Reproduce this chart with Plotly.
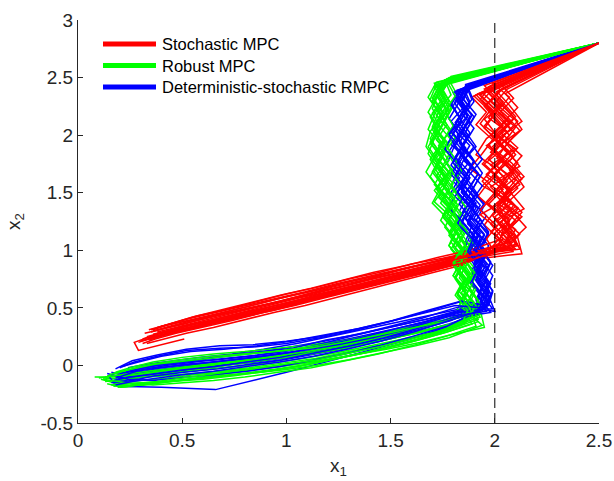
import plotly.graph_objects as go

# ---------------- data ----------------
series_names = ["Stochastic MPC", "Robust MPC", "Deterministic-stochastic RMPC"]
series_colors = ["#ff0000", "#00ff00", "#0000ff"]

x_tick_vals = [0, 0.5, 1, 1.5, 2, 2.5]
x_tick_text = ["0", "0.5", "1", "1.5", "2", "2.5"]
y_tick_vals = [-0.5, 0, 0.5, 1, 1.5, 2, 2.5, 3]
y_tick_text = ["-0.5", "0", "0.5", "1", "1.5", "2", "2.5", "3"]

constraint_x1 = 2.0

# Stochastic MPC trajectories
stoch_x = [
    [2.5, 1.95, 2.02, 1.97, 2.06, 1.99, 2.04, 1.96, 2.08, 2.01, 2.05, 1.98, 2.07, 1.86, 1.70, 1.55, 1.40, 1.24, 1.09, 0.94, 0.79, 0.64, 0.51, 0.40, 0.34],
    [2.5, 1.92, 1.99, 2.08, 2.01, 2.10, 1.98, 2.05, 2.00, 2.11, 2.03, 2.09, 2.12, 1.90, 1.74, 1.58, 1.43, 1.27, 1.12, 0.97, 0.82, 0.68, 0.55, 0.43, 0.36],
    [2.5, 1.98, 1.93, 2.00, 1.95, 2.03, 2.09, 2.02, 1.94, 2.06, 1.99, 2.04, 2.02, 1.83, 1.67, 1.51, 1.36, 1.21, 1.05, 0.90, 0.75, 0.61, 0.48, 0.37, 0.30],
    [2.5, 2.01, 2.07, 2.13, 2.05, 2.00, 2.08, 2.14, 2.06, 2.01, 2.10, 2.04, 2.09, 1.88, 1.72, 1.57, 1.41, 1.26, 1.10, 0.95, 0.81, 0.66, 0.53, 0.41, 0.33],
    [2.5, 1.89, 1.96, 1.91, 1.99, 1.94, 1.88, 1.97, 1.92, 2.00, 1.95, 2.02, 1.97, 1.80, 1.64, 1.49, 1.33, 1.18, 1.03, 0.87, 0.72, 0.58, 0.46, 0.36, 0.29],
    [2.5, 2.04, 1.98, 2.06, 2.12, 2.03, 1.97, 2.05, 2.11, 2.04, 2.13, 2.06, 2.10, 1.87, 1.71, 1.54, 1.38, 1.23, 1.07, 0.92, 0.77, 0.63, 0.50, 0.39, 0.31],
    [2.5, 1.96, 2.03, 1.95, 2.01, 2.09, 2.02, 1.96, 2.04, 1.97, 2.07, 2.00, 2.05, 1.84, 1.68, 1.52, 1.37, 1.21, 1.06, 0.91, 0.76, 0.62, 0.49, 0.38, 0.27, 0.29, 0.51],
    [2.5, 1.93, 2.00, 2.07, 1.99, 2.06, 2.12, 2.01, 2.08, 2.14, 2.02, 2.11, 2.13, 1.89, 1.73, 1.56, 1.42, 1.25, 1.11, 0.96, 0.80, 0.67, 0.54, 0.42, 0.35],
    [2.5, 2.00, 1.94, 2.02, 2.08, 1.96, 2.03, 2.09, 1.98, 2.05, 1.93, 2.01, 2.08, 1.85, 1.69, 1.53, 1.39, 1.22, 1.08, 0.93, 0.78, 0.63, 0.51, 0.40, 0.32],
    [2.5, 1.97, 2.05, 2.11, 2.04, 1.98, 2.07, 2.13, 2.05, 2.10, 2.01, 2.07, 2.03, 1.82, 1.66, 1.50, 1.35, 1.19, 1.04, 0.89, 0.74, 0.60, 0.47, 0.37, 0.31],
    [2.5, 1.90, 1.97, 2.04, 1.96, 1.91, 2.00, 2.06, 1.99, 1.93, 2.01, 1.96, 2.00, 1.86, 1.71, 1.55, 1.40, 1.24, 1.09, 0.94, 0.79, 0.65, 0.52, 0.41, 0.34],
    [2.5, 2.03, 2.09, 2.02, 2.10, 2.05, 2.13, 2.07, 2.12, 2.03, 2.09, 2.15, 2.08, 1.91, 1.75, 1.59, 1.44, 1.28, 1.13, 0.98, 0.83, 0.69, 0.56, 0.45, 0.38],
    [2.5, 2.06, 2.00, 2.09, 2.03, 2.11, 2.05, 1.99, 2.08, 2.02, 2.12, 2.05, 2.11, 1.90, 1.75, 1.60, 1.45, 1.30, 1.15, 1.00, 0.85, 0.70, 0.57, 0.46, 0.38],
    [2.5, 1.99, 2.07, 2.01, 1.95, 2.04, 2.10, 2.03, 1.97, 2.06, 2.13, 2.07, 2.02, 1.88, 1.73, 1.58, 1.42, 1.27, 1.12, 0.97, 0.82, 0.68, 0.55, 0.44, 0.35],
    [2.5, 1.94, 2.01, 2.06, 1.98, 2.04, 1.95, 2.02, 2.07, 1.99, 2.05, 2.10, 2.01, 1.84, 1.69, 1.54, 1.39, 1.24, 1.09, 0.94, 0.79, 0.65, 0.52, 0.41, 0.33],
    [2.5, 2.02, 1.96, 2.03, 2.10, 2.04, 2.11, 2.06, 2.00, 2.09, 2.04, 2.12, 2.06, 1.87, 1.72, 1.56, 1.41, 1.26, 1.11, 0.96, 0.81, 0.67, 0.54, 0.43, 0.36],
    [2.5, 1.97, 2.04, 1.98, 2.05, 1.97, 2.03, 2.09, 2.02, 1.96, 2.03, 2.08, 2.04, 1.85, 1.70, 1.55, 1.39, 1.24, 1.09, 0.93, 0.78, 0.64, 0.52, 0.42, 0.34],
    [2.5, 2.05, 2.11, 2.04, 1.99, 2.07, 2.01, 2.10, 2.04, 2.11, 2.06, 2.00, 2.09, 1.89, 1.74, 1.59, 1.44, 1.29, 1.14, 0.99, 0.84, 0.70, 0.57, 0.46, 0.37],
    [2.5, 1.98, 2.04, 2.10, 2.02, 1.97, 2.05, 2.12, 2.03, 2.08, 2.00, 2.06, 2.11, 1.88, 1.73, 1.57, 1.42, 1.27, 1.12, 0.97, 0.82, 0.68, 0.55, 0.44, 0.36],
    [2.5, 2.02, 1.95, 2.01, 2.07, 2.00, 1.94, 2.02, 2.08, 2.01, 2.07, 2.03, 2.10, 1.91, 1.76, 1.61, 1.46, 1.31, 1.16, 1.01, 0.86, 0.72, 0.59, 0.48, 0.40],
    [2.5, 1.95, 2.02, 2.08, 2.13, 2.06, 2.01, 2.09, 2.14, 2.07, 2.02, 2.10, 2.05, 1.86, 1.71, 1.56, 1.41, 1.26, 1.11, 0.96, 0.81, 0.67, 0.54, 0.43, 0.35],
    [2.5, 1.91, 1.98, 1.93, 2.00, 2.06, 1.99, 1.94, 2.01, 2.07, 1.98, 2.04, 1.99, 1.83, 1.68, 1.53, 1.38, 1.23, 1.08, 0.93, 0.78, 0.64, 0.51, 0.40, 0.32],
]
stoch_y = [
    [2.8, 2.40, 2.27, 2.15, 2.03, 1.90, 1.78, 1.66, 1.52, 1.41, 1.28, 1.16, 1.04, 0.93, 0.85, 0.78, 0.71, 0.64, 0.57, 0.50, 0.44, 0.38, 0.32, 0.27, 0.24],
    [2.8, 2.36, 2.24, 2.11, 1.99, 1.88, 1.74, 1.63, 1.50, 1.37, 1.25, 1.12, 1.01, 0.96, 0.88, 0.81, 0.74, 0.67, 0.60, 0.53, 0.47, 0.41, 0.35, 0.30, 0.27],
    [2.8, 2.43, 2.31, 2.18, 2.06, 1.93, 1.81, 1.69, 1.56, 1.44, 1.30, 1.18, 1.06, 0.90, 0.82, 0.74, 0.68, 0.61, 0.54, 0.47, 0.41, 0.35, 0.30, 0.25, 0.21],
    [2.8, 2.38, 2.26, 2.12, 2.01, 1.87, 1.76, 1.64, 1.51, 1.39, 1.26, 1.14, 1.02, 0.95, 0.86, 0.80, 0.72, 0.66, 0.58, 0.52, 0.45, 0.39, 0.33, 0.29, 0.25],
    [2.8, 2.33, 2.20, 2.09, 1.96, 1.84, 1.71, 1.59, 1.47, 1.34, 1.22, 1.10, 0.99, 0.89, 0.81, 0.75, 0.67, 0.61, 0.53, 0.47, 0.40, 0.34, 0.29, 0.24, 0.20],
    [2.8, 2.41, 2.29, 2.16, 2.04, 1.92, 1.79, 1.67, 1.54, 1.42, 1.29, 1.17, 1.05, 0.94, 0.87, 0.79, 0.72, 0.65, 0.59, 0.52, 0.45, 0.39, 0.34, 0.28, 0.23],
    [2.8, 2.39, 2.25, 2.14, 2.00, 1.89, 1.77, 1.64, 1.53, 1.40, 1.27, 1.15, 1.03, 0.92, 0.84, 0.77, 0.70, 0.63, 0.56, 0.49, 0.43, 0.37, 0.31, 0.27, 0.20, 0.13, 0.23],
    [2.8, 2.35, 2.23, 2.10, 1.98, 1.86, 1.73, 1.61, 1.49, 1.36, 1.24, 1.11, 0.97, 0.92, 0.85, 0.77, 0.71, 0.63, 0.57, 0.50, 0.43, 0.38, 0.32, 0.27, 0.24],
    [2.8, 2.42, 2.30, 2.17, 2.05, 1.91, 1.80, 1.68, 1.55, 1.43, 1.31, 1.19, 1.07, 0.97, 0.89, 0.82, 0.75, 0.68, 0.61, 0.54, 0.48, 0.42, 0.36, 0.31, 0.28],
    [2.8, 2.37, 2.23, 2.12, 1.99, 1.85, 1.74, 1.62, 1.48, 1.38, 1.25, 1.13, 1.00, 0.88, 0.80, 0.73, 0.66, 0.59, 0.52, 0.46, 0.39, 0.33, 0.28, 0.23, 0.19],
    [2.8, 2.34, 2.22, 2.08, 1.97, 1.83, 1.72, 1.60, 1.46, 1.35, 1.21, 1.10, 0.98, 0.90, 0.83, 0.76, 0.69, 0.62, 0.55, 0.48, 0.42, 0.36, 0.31, 0.26, 0.22],
    [2.8, 2.44, 2.32, 2.19, 2.07, 1.95, 1.82, 1.70, 1.57, 1.45, 1.32, 1.20, 1.08, 0.99, 0.90, 0.83, 0.76, 0.69, 0.62, 0.56, 0.49, 0.43, 0.37, 0.32, 0.29],
    [2.8, 2.40, 2.28, 2.14, 2.02, 1.89, 1.77, 1.65, 1.53, 1.40, 1.28, 1.15, 1.05, 0.99, 0.93, 0.88, 0.81, 0.75, 0.68, 0.62, 0.55, 0.48, 0.43, 0.37, 0.33],
    [2.8, 2.45, 2.33, 2.20, 2.08, 1.96, 1.83, 1.71, 1.58, 1.46, 1.33, 1.21, 1.09, 1.00, 0.94, 0.87, 0.81, 0.74, 0.67, 0.61, 0.54, 0.48, 0.42, 0.36, 0.31],
    [2.8, 2.37, 2.25, 2.13, 2.00, 1.88, 1.75, 1.63, 1.50, 1.38, 1.26, 1.13, 1.01, 0.87, 0.80, 0.73, 0.66, 0.59, 0.52, 0.46, 0.39, 0.33, 0.28, 0.23, 0.19],
    [2.8, 2.39, 2.26, 2.13, 2.01, 1.88, 1.76, 1.64, 1.51, 1.39, 1.27, 1.14, 1.02, 0.96, 0.90, 0.84, 0.77, 0.71, 0.64, 0.58, 0.51, 0.45, 0.40, 0.35, 0.31],
    [2.8, 2.42, 2.29, 2.17, 2.04, 1.92, 1.79, 1.67, 1.54, 1.42, 1.30, 1.17, 1.05, 0.96, 0.90, 0.84, 0.77, 0.71, 0.64, 0.57, 0.51, 0.45, 0.40, 0.35, 0.31],
    [2.8, 2.36, 2.24, 2.11, 1.98, 1.86, 1.73, 1.61, 1.48, 1.36, 1.23, 1.11, 0.99, 0.93, 0.87, 0.80, 0.73, 0.67, 0.60, 0.54, 0.47, 0.41, 0.36, 0.31, 0.27],
    [2.8, 2.41, 2.28, 2.16, 2.03, 1.91, 1.78, 1.66, 1.53, 1.41, 1.29, 1.16, 1.04, 0.95, 0.89, 0.82, 0.76, 0.69, 0.63, 0.56, 0.50, 0.44, 0.39, 0.34, 0.30],
    [2.8, 2.38, 2.25, 2.12, 2.00, 1.87, 1.75, 1.62, 1.50, 1.37, 1.25, 1.12, 1.01, 0.97, 0.92, 0.86, 0.79, 0.73, 0.66, 0.60, 0.53, 0.47, 0.41, 0.37, 0.34],
    [2.8, 2.43, 2.30, 2.18, 2.05, 1.93, 1.80, 1.68, 1.55, 1.43, 1.31, 1.18, 1.06, 0.94, 0.88, 0.81, 0.75, 0.68, 0.62, 0.55, 0.49, 0.43, 0.38, 0.33, 0.29],
    [2.8, 2.35, 2.22, 2.10, 1.97, 1.85, 1.72, 1.60, 1.47, 1.35, 1.23, 1.10, 0.98, 0.88, 0.82, 0.75, 0.69, 0.62, 0.56, 0.49, 0.43, 0.37, 0.31, 0.26, 0.22],
]

# Robust MPC trajectories
robust_x = [
    [2.5, 1.75, 1.72, 1.77, 1.71, 1.76, 1.70, 1.75, 1.71, 1.78, 1.83, 1.80, 1.86, 1.82, 1.88, 1.85, 1.90, 1.87, 1.73, 1.57, 1.41, 1.25, 1.09, 0.93, 0.77, 0.62, 0.47, 0.33, 0.21, 0.12],
    [2.5, 1.72, 1.76, 1.71, 1.68, 1.74, 1.69, 1.73, 1.78, 1.74, 1.81, 1.85, 1.81, 1.87, 1.83, 1.89, 1.86, 1.92, 1.77, 1.61, 1.45, 1.29, 1.13, 0.97, 0.81, 0.65, 0.50, 0.36, 0.22, 0.08],
    [2.5, 1.78, 1.74, 1.79, 1.75, 1.81, 1.76, 1.72, 1.78, 1.83, 1.79, 1.85, 1.89, 1.84, 1.90, 1.86, 1.92, 1.95, 1.80, 1.64, 1.48, 1.32, 1.16, 1.00, 0.84, 0.68, 0.53, 0.39, 0.28, 0.19],
    [2.5, 1.73, 1.70, 1.74, 1.69, 1.67, 1.72, 1.76, 1.71, 1.77, 1.82, 1.78, 1.84, 1.80, 1.86, 1.82, 1.88, 1.84, 1.70, 1.54, 1.38, 1.22, 1.06, 0.90, 0.74, 0.59, 0.45, 0.32, 0.22],
    [2.5, 1.76, 1.79, 1.73, 1.77, 1.72, 1.78, 1.74, 1.80, 1.76, 1.81, 1.87, 1.83, 1.88, 1.84, 1.90, 1.87, 1.93, 1.78, 1.62, 1.46, 1.30, 1.14, 0.98, 0.82, 0.67, 0.52, 0.38, 0.25, 0.15],
    [2.5, 1.71, 1.75, 1.70, 1.74, 1.69, 1.75, 1.80, 1.76, 1.71, 1.79, 1.84, 1.80, 1.85, 1.81, 1.87, 1.84, 1.89, 1.75, 1.59, 1.43, 1.27, 1.11, 0.95, 0.79, 0.64, 0.49, 0.34, 0.20],
    [2.5, 1.77, 1.73, 1.70, 1.75, 1.71, 1.68, 1.73, 1.77, 1.73, 1.80, 1.76, 1.82, 1.86, 1.82, 1.88, 1.85, 1.91, 1.79, 1.63, 1.47, 1.31, 1.15, 0.99, 0.83, 0.67, 0.51, 0.37, 0.24, 0.14],
    [2.5, 1.74, 1.78, 1.74, 1.79, 1.73, 1.78, 1.72, 1.77, 1.82, 1.78, 1.83, 1.79, 1.85, 1.81, 1.86, 1.82, 1.88, 1.74, 1.58, 1.42, 1.26, 1.10, 0.94, 0.78, 0.63, 0.48, 0.34, 0.23, 0.16],
    [2.5, 1.79, 1.75, 1.80, 1.76, 1.72, 1.77, 1.81, 1.76, 1.82, 1.87, 1.83, 1.89, 1.85, 1.91, 1.87, 1.92, 1.89, 1.75, 1.60, 1.44, 1.28, 1.12, 0.96, 0.80, 0.65, 0.50, 0.36, 0.25, 0.18],
    [2.5, 1.72, 1.68, 1.73, 1.70, 1.76, 1.71, 1.67, 1.72, 1.79, 1.75, 1.81, 1.78, 1.84, 1.80, 1.86, 1.83, 1.94, 1.78, 1.62, 1.46, 1.30, 1.14, 0.98, 0.82, 0.66, 0.51, 0.37, 0.25, 0.17],
    [2.5, 1.75, 1.71, 1.76, 1.72, 1.78, 1.73, 1.79, 1.74, 1.70, 1.77, 1.82, 1.87, 1.83, 1.88, 1.84, 1.90, 1.86, 1.72, 1.56, 1.40, 1.24, 1.08, 0.92, 0.76, 0.60, 0.45, 0.31, 0.18, 0.10],
    [2.5, 1.78, 1.82, 1.77, 1.73, 1.79, 1.74, 1.79, 1.83, 1.78, 1.84, 1.80, 1.86, 1.82, 1.87, 1.91, 1.88, 1.93, 1.81, 1.65, 1.49, 1.33, 1.17, 1.01, 0.85, 0.69, 0.54, 0.40, 0.27, 0.20],
    [2.5, 1.76, 1.72, 1.68, 1.73, 1.69, 1.74, 1.70, 1.75, 1.80, 1.76, 1.82, 1.78, 1.84, 1.80, 1.86, 1.83, 1.90, 1.76, 1.60, 1.44, 1.28, 1.12, 0.96, 0.80, 0.64, 0.49, 0.35, 0.23, 0.13],
    [2.5, 1.73, 1.77, 1.72, 1.78, 1.74, 1.70, 1.76, 1.72, 1.77, 1.83, 1.79, 1.85, 1.81, 1.86, 1.82, 1.88, 1.85, 1.71, 1.55, 1.39, 1.23, 1.07, 0.91, 0.75, 0.60, 0.45, 0.31, 0.19, 0.11],
    [2.5, 1.77, 1.81, 1.76, 1.80, 1.75, 1.80, 1.84, 1.79, 1.84, 1.80, 1.86, 1.90, 1.85, 1.91, 1.88, 1.93, 1.90, 1.77, 1.61, 1.46, 1.30, 1.14, 0.98, 0.82, 0.66, 0.51, 0.37, 0.26, 0.17],
    [2.5, 1.74, 1.70, 1.75, 1.71, 1.77, 1.72, 1.78, 1.73, 1.79, 1.75, 1.81, 1.86, 1.82, 1.87, 1.83, 1.89, 1.92, 1.78, 1.62, 1.47, 1.31, 1.15, 0.99, 0.83, 0.68, 0.52, 0.38, 0.26, 0.16],
    [2.5, 1.79, 1.74, 1.78, 1.73, 1.69, 1.74, 1.79, 1.74, 1.81, 1.77, 1.83, 1.79, 1.85, 1.89, 1.84, 1.90, 1.87, 1.74, 1.58, 1.42, 1.26, 1.10, 0.94, 0.78, 0.62, 0.47, 0.33, 0.21, 0.13],
    [2.5, 1.71, 1.75, 1.69, 1.73, 1.68, 1.73, 1.69, 1.74, 1.78, 1.74, 1.80, 1.84, 1.80, 1.85, 1.81, 1.87, 1.84, 1.70, 1.54, 1.38, 1.22, 1.06, 0.90, 0.75, 0.60, 0.45, 0.32, 0.21, 0.14],
    [2.5, 1.77, 1.73, 1.78, 1.74, 1.70, 1.75, 1.71, 1.76, 1.81, 1.77, 1.83, 1.88, 1.84, 1.89, 1.85, 1.91, 1.88, 1.75, 1.59, 1.43, 1.27, 1.11, 0.95, 0.79, 0.64, 0.49, 0.35, 0.24, 0.15],
    [2.5, 1.72, 1.69, 1.74, 1.70, 1.75, 1.71, 1.77, 1.72, 1.78, 1.82, 1.78, 1.84, 1.80, 1.86, 1.82, 1.88, 1.91, 1.76, 1.60, 1.44, 1.28, 1.12, 0.96, 0.80, 0.65, 0.50, 0.36, 0.23, 0.12],
]
robust_y = [
    [2.8, 2.47, 2.34, 2.21, 2.08, 1.95, 1.82, 1.69, 1.57, 1.44, 1.31, 1.18, 1.05, 0.92, 0.79, 0.66, 0.53, 0.40, 0.30, 0.22, 0.15, 0.09, 0.03, -0.01, -0.04, -0.06, -0.08, -0.10, -0.12, -0.11],
    [2.8, 2.44, 2.31, 2.18, 2.05, 1.92, 1.79, 1.66, 1.54, 1.41, 1.28, 1.15, 1.02, 0.89, 0.76, 0.63, 0.50, 0.38, 0.29, 0.21, 0.14, 0.08, 0.03, -0.01, -0.04, -0.07, -0.08, -0.09, -0.10, -0.10],
    [2.8, 2.50, 2.37, 2.24, 2.11, 1.98, 1.85, 1.72, 1.59, 1.47, 1.34, 1.21, 1.08, 0.95, 0.82, 0.69, 0.56, 0.33, 0.27, 0.20, 0.14, 0.09, 0.04, 0.00, -0.04, -0.08, -0.12, -0.15, -0.18, -0.19],
    [2.8, 2.42, 2.29, 2.16, 2.03, 1.90, 1.77, 1.64, 1.52, 1.39, 1.26, 1.13, 1.00, 0.87, 0.74, 0.61, 0.48, 0.38, 0.32, 0.26, 0.20, 0.14, 0.09, 0.05, 0.02, -0.01, -0.03, -0.05, -0.07],
    [2.8, 2.48, 2.35, 2.22, 2.09, 1.96, 1.83, 1.70, 1.58, 1.45, 1.32, 1.19, 1.06, 0.93, 0.80, 0.67, 0.54, 0.42, 0.33, 0.25, 0.18, 0.12, 0.06, 0.02, -0.02, -0.05, -0.09, -0.12, -0.14, -0.13],
    [2.8, 2.45, 2.32, 2.19, 2.06, 1.93, 1.80, 1.67, 1.55, 1.42, 1.29, 1.16, 1.03, 0.90, 0.77, 0.64, 0.51, 0.36, 0.28, 0.20, 0.13, 0.07, 0.01, -0.03, -0.07, -0.10, -0.13, -0.16, -0.19],
    [2.8, 2.49, 2.36, 2.23, 2.10, 1.97, 1.84, 1.71, 1.59, 1.46, 1.33, 1.20, 1.07, 0.94, 0.81, 0.68, 0.55, 0.43, 0.36, 0.29, 0.22, 0.16, 0.11, 0.07, 0.03, 0.00, -0.03, -0.06, -0.08, -0.09],
    [2.8, 2.43, 2.30, 2.17, 2.04, 1.91, 1.78, 1.65, 1.53, 1.40, 1.27, 1.14, 1.01, 0.88, 0.75, 0.62, 0.49, 0.41, 0.33, 0.27, 0.21, 0.16, 0.11, 0.08, 0.05, 0.02, 0.00, -0.02, -0.05, -0.08],
    [2.8, 2.51, 2.38, 2.25, 2.12, 1.99, 1.86, 1.73, 1.61, 1.48, 1.35, 1.22, 1.09, 0.96, 0.83, 0.70, 0.57, 0.46, 0.39, 0.33, 0.27, 0.22, 0.18, 0.15, 0.12, 0.10, 0.07, 0.03, -0.02, -0.06],
    [2.8, 2.46, 2.33, 2.20, 2.07, 1.94, 1.81, 1.68, 1.56, 1.43, 1.30, 1.17, 1.04, 0.91, 0.78, 0.65, 0.52, 0.35, 0.24, 0.17, 0.11, 0.05, 0.00, -0.04, -0.07, -0.10, -0.13, -0.15, -0.17, -0.18],
    [2.8, 2.44, 2.31, 2.18, 2.05, 1.92, 1.79, 1.66, 1.54, 1.41, 1.28, 1.15, 1.02, 0.89, 0.76, 0.63, 0.50, 0.37, 0.29, 0.23, 0.17, 0.11, 0.06, 0.02, -0.01, -0.04, -0.06, -0.08, -0.09, -0.11],
    [2.8, 2.48, 2.35, 2.22, 2.09, 1.96, 1.83, 1.70, 1.58, 1.45, 1.32, 1.19, 1.06, 0.93, 0.80, 0.67, 0.54, 0.44, 0.36, 0.29, 0.23, 0.17, 0.12, 0.08, 0.05, 0.02, -0.02, -0.05, -0.08, -0.10],
    [2.8, 2.46, 2.33, 2.20, 2.07, 1.94, 1.81, 1.68, 1.56, 1.43, 1.30, 1.17, 1.04, 0.91, 0.78, 0.65, 0.52, 0.42, 0.34, 0.27, 0.21, 0.15, 0.10, 0.06, 0.02, -0.02, -0.06, -0.09, -0.12, -0.14],
    [2.8, 2.43, 2.30, 2.17, 2.04, 1.91, 1.78, 1.65, 1.53, 1.40, 1.27, 1.14, 1.01, 0.88, 0.75, 0.62, 0.49, 0.37, 0.27, 0.19, 0.12, 0.06, 0.00, -0.05, -0.09, -0.12, -0.14, -0.15, -0.16, -0.12],
    [2.8, 2.47, 2.34, 2.21, 2.08, 1.95, 1.82, 1.69, 1.57, 1.44, 1.31, 1.18, 1.05, 0.92, 0.79, 0.66, 0.53, 0.47, 0.40, 0.34, 0.28, 0.22, 0.17, 0.13, 0.10, 0.07, 0.04, 0.01, -0.03, -0.07],
    [2.8, 2.45, 2.32, 2.19, 2.06, 1.93, 1.80, 1.67, 1.55, 1.42, 1.29, 1.16, 1.03, 0.90, 0.77, 0.64, 0.51, 0.40, 0.31, 0.24, 0.17, 0.11, 0.05, 0.01, -0.03, -0.07, -0.11, -0.14, -0.16, -0.17],
    [2.8, 2.49, 2.36, 2.23, 2.10, 1.97, 1.84, 1.71, 1.59, 1.46, 1.33, 1.20, 1.07, 0.94, 0.81, 0.68, 0.55, 0.45, 0.37, 0.30, 0.23, 0.17, 0.12, 0.08, 0.04, 0.01, -0.02, -0.05, -0.08, -0.10],
    [2.8, 2.42, 2.29, 2.16, 2.03, 1.90, 1.77, 1.64, 1.52, 1.39, 1.26, 1.13, 1.00, 0.87, 0.74, 0.61, 0.48, 0.35, 0.26, 0.18, 0.11, 0.05, -0.01, -0.05, -0.08, -0.11, -0.14, -0.16, -0.19, -0.16],
    [2.8, 2.46, 2.33, 2.20, 2.07, 1.94, 1.81, 1.68, 1.56, 1.43, 1.30, 1.17, 1.04, 0.91, 0.78, 0.65, 0.52, 0.44, 0.38, 0.32, 0.26, 0.20, 0.15, 0.12, 0.10, 0.08, 0.05, 0.01, -0.04, -0.08],
    [2.8, 2.44, 2.31, 2.18, 2.05, 1.92, 1.79, 1.66, 1.54, 1.41, 1.28, 1.15, 1.02, 0.89, 0.76, 0.63, 0.50, 0.34, 0.25, 0.17, 0.10, 0.04, -0.02, -0.06, -0.10, -0.13, -0.15, -0.17, -0.15, -0.12],
]

# Deterministic-stochastic RMPC trajectories
dsrmpc_x = [
    [2.5, 1.84, 1.81, 1.86, 1.80, 1.85, 1.82, 1.88, 1.84, 1.91, 1.87, 1.93, 1.90, 1.95, 1.92, 1.96, 1.94, 1.80, 1.63, 1.47, 1.31, 1.15, 0.99, 0.83, 0.68, 0.53, 0.40, 0.28, 0.20],
    [2.5, 1.87, 1.83, 1.89, 1.85, 1.79, 1.86, 1.92, 1.88, 1.95, 1.90, 1.97, 1.93, 1.98, 1.95, 1.99, 1.97, 1.83, 1.67, 1.51, 1.34, 1.18, 1.02, 0.86, 0.71, 0.56, 0.42, 0.30, 0.22],
    [2.5, 1.81, 1.85, 1.79, 1.83, 1.78, 1.84, 1.80, 1.87, 1.83, 1.89, 1.86, 1.92, 1.89, 1.94, 1.91, 1.93, 1.78, 1.61, 1.45, 1.29, 1.12, 0.96, 0.80, 0.65, 0.50, 0.37, 0.25, 0.16],
    [2.5, 1.86, 1.89, 1.84, 1.90, 1.86, 1.81, 1.88, 1.94, 1.89, 1.96, 1.91, 1.97, 1.94, 1.99, 1.96, 2.00, 1.86, 1.70, 1.54, 1.37, 1.21, 1.05, 0.89, 0.74, 0.59, 0.45, 0.33, 0.24],
    [2.5, 1.83, 1.80, 1.84, 1.78, 1.82, 1.87, 1.81, 1.86, 1.92, 1.87, 1.94, 1.90, 1.96, 1.92, 1.97, 1.95, 1.76, 1.58, 1.40, 1.21, 1.00, 0.66, 0.40, 0.19, 0.15],
    [2.5, 1.88, 1.84, 1.90, 1.86, 1.91, 1.85, 1.93, 1.89, 1.95, 1.91, 1.97, 1.93, 1.99, 1.95, 1.98, 1.96, 1.83, 1.66, 1.49, 1.32, 1.16, 1.00, 0.84, 0.68, 0.52, 0.38, 0.26, 0.18],
    [2.5, 1.85, 1.82, 1.78, 1.84, 1.80, 1.77, 1.83, 1.79, 1.86, 1.82, 1.88, 1.85, 1.91, 1.88, 1.93, 1.90, 1.74, 1.57, 1.41, 1.25, 1.09, 0.93, 0.78, 0.62, 0.47, 0.34, 0.24, 0.17],
    [2.5, 1.82, 1.86, 1.81, 1.87, 1.83, 1.89, 1.84, 1.90, 1.85, 1.93, 1.88, 1.95, 1.91, 1.97, 1.93, 1.98, 1.84, 1.68, 1.53, 1.36, 1.20, 1.04, 0.87, 0.71, 0.55, 0.41, 0.29, 0.21],
    [2.5, 1.87, 1.90, 1.85, 1.81, 1.88, 1.84, 1.79, 1.85, 1.90, 1.86, 1.92, 1.88, 1.93, 1.90, 1.95, 1.92, 1.78, 1.62, 1.46, 1.30, 1.14, 0.98, 0.82, 0.66, 0.51, 0.37, 0.26, 0.19],
    [2.5, 1.84, 1.79, 1.83, 1.88, 1.84, 1.90, 1.86, 1.82, 1.88, 1.94, 1.89, 1.95, 1.92, 1.97, 1.94, 1.99, 1.85, 1.69, 1.52, 1.35, 1.19, 1.03, 0.88, 0.72, 0.57, 0.43, 0.31, 0.23],
    [2.5, 1.86, 1.82, 1.87, 1.83, 1.89, 1.94, 1.88, 1.84, 1.91, 1.86, 1.93, 1.89, 1.94, 1.91, 1.96, 1.93, 1.79, 1.63, 1.48, 1.32, 1.16, 1.01, 0.85, 0.69, 0.54, 0.39, 0.27, 0.17],
    [2.5, 1.80, 1.84, 1.88, 1.82, 1.86, 1.81, 1.87, 1.92, 1.87, 1.84, 1.90, 1.96, 1.92, 1.98, 1.95, 1.97, 1.82, 1.65, 1.50, 1.33, 1.17, 1.01, 0.86, 0.70, 0.55, 0.42, 0.30, 0.20],
    [2.5, 1.85, 1.88, 1.83, 1.79, 1.85, 1.90, 1.86, 1.81, 1.88, 1.93, 1.89, 1.95, 1.90, 1.96, 1.93, 1.98, 1.81, 1.65, 1.48, 1.31, 1.15, 0.99, 0.83, 0.67, 0.52, 0.38, 0.27, 0.19],
    [2.5, 1.83, 1.79, 1.84, 1.80, 1.76, 1.82, 1.87, 1.82, 1.78, 1.85, 1.91, 1.87, 1.92, 1.89, 1.94, 1.91, 1.77, 1.60, 1.44, 1.28, 1.12, 0.97, 0.81, 0.65, 0.50, 0.36, 0.24, 0.14],
    [2.5, 1.88, 1.85, 1.91, 1.87, 1.83, 1.89, 1.94, 1.90, 1.86, 1.92, 1.97, 1.93, 1.98, 1.94, 1.99, 1.96, 1.84, 1.68, 1.51, 1.35, 1.18, 1.02, 0.86, 0.70, 0.54, 0.40, 0.29, 0.21],
    [2.5, 1.81, 1.86, 1.82, 1.87, 1.83, 1.79, 1.85, 1.91, 1.86, 1.82, 1.89, 1.94, 1.90, 1.95, 1.92, 1.96, 1.79, 1.62, 1.46, 1.29, 1.13, 0.97, 0.81, 0.66, 0.50, 0.36, 0.25, 0.17],
    [2.5, 1.86, 1.83, 1.88, 1.84, 1.90, 1.85, 1.81, 1.87, 1.93, 1.88, 1.95, 1.91, 1.97, 1.93, 1.98, 1.95, 1.82, 1.66, 1.49, 1.33, 1.17, 1.01, 0.85, 0.69, 0.53, 0.39, 0.28, 0.18],
    [2.5, 1.84, 1.88, 1.84, 1.80, 1.86, 1.82, 1.88, 1.84, 1.90, 1.87, 1.92, 1.88, 1.94, 1.91, 1.96, 1.94, 1.79, 1.63, 1.47, 1.31, 1.14, 0.98, 0.82, 0.67, 0.51, 0.37, 0.26, 0.16],
    [2.5, 1.87, 1.84, 1.89, 1.85, 1.81, 1.87, 1.92, 1.87, 1.83, 1.89, 1.95, 1.90, 1.96, 1.92, 1.97, 1.94, 1.81, 1.65, 1.48, 1.32, 1.16, 1.00, 0.84, 0.68, 0.52, 0.38, 0.27, 0.20],
    [2.5, 1.82, 1.87, 1.83, 1.78, 1.84, 1.80, 1.86, 1.82, 1.88, 1.84, 1.90, 1.87, 1.93, 1.89, 1.95, 1.92, 1.77, 1.61, 1.45, 1.29, 1.13, 0.97, 0.81, 0.65, 0.50, 0.37, 0.26, 0.18],
]
dsrmpc_y = [
    [2.8, 2.40, 2.27, 2.15, 2.02, 1.89, 1.76, 1.63, 1.50, 1.37, 1.24, 1.11, 0.98, 0.85, 0.72, 0.60, 0.48, 0.40, 0.33, 0.26, 0.20, 0.14, 0.09, 0.05, 0.02, -0.01, -0.04, -0.07, -0.09],
    [2.8, 2.43, 2.30, 2.18, 2.05, 1.92, 1.80, 1.67, 1.54, 1.41, 1.28, 1.15, 1.02, 0.89, 0.77, 0.64, 0.52, 0.47, 0.40, 0.34, 0.27, 0.21, 0.16, 0.11, 0.08, 0.04, 0.01, -0.02, -0.05],
    [2.8, 2.37, 2.24, 2.12, 1.99, 1.86, 1.73, 1.60, 1.47, 1.34, 1.21, 1.08, 0.95, 0.82, 0.69, 0.57, 0.45, 0.36, 0.28, 0.21, 0.15, 0.09, 0.04, 0.00, -0.03, -0.06, -0.08, -0.10, -0.06],
    [2.8, 2.44, 2.31, 2.19, 2.06, 1.94, 1.81, 1.68, 1.56, 1.43, 1.30, 1.17, 1.04, 0.91, 0.78, 0.65, 0.47, 0.50, 0.44, 0.38, 0.31, 0.25, 0.19, 0.14, 0.10, 0.07, 0.04, 0.01, -0.02],
    [2.8, 2.38, 2.25, 2.13, 2.00, 1.87, 1.75, 1.62, 1.49, 1.36, 1.23, 1.10, 0.97, 0.84, 0.71, 0.59, 0.50, 0.33, 0.22, 0.13, 0.04, -0.06, -0.21, -0.19, -0.18, -0.10],
    [2.8, 2.41, 2.28, 2.16, 2.03, 1.90, 1.78, 1.65, 1.52, 1.39, 1.26, 1.13, 1.00, 0.87, 0.74, 0.62, 0.50, 0.55, 0.46, 0.38, 0.31, 0.25, 0.21, 0.18, 0.17, 0.14, 0.09, 0.04, -0.03],
    [2.8, 2.39, 2.26, 2.14, 2.01, 1.88, 1.75, 1.63, 1.50, 1.38, 1.25, 1.12, 0.99, 0.86, 0.73, 0.61, 0.49, 0.38, 0.30, 0.23, 0.16, 0.11, 0.06, 0.02, -0.02, -0.05, -0.09, -0.12, -0.14],
    [2.8, 2.36, 2.23, 2.11, 1.98, 1.85, 1.72, 1.59, 1.47, 1.34, 1.22, 1.08, 0.95, 0.83, 0.70, 0.58, 0.46, 0.42, 0.36, 0.29, 0.23, 0.17, 0.12, 0.08, 0.04, 0.00, -0.03, -0.06, -0.10],
    [2.8, 2.42, 2.29, 2.17, 2.04, 1.91, 1.79, 1.66, 1.53, 1.40, 1.27, 1.14, 1.01, 0.88, 0.76, 0.63, 0.51, 0.44, 0.35, 0.27, 0.20, 0.15, 0.10, 0.06, 0.03, 0.01, -0.03, -0.08, -0.12],
    [2.8, 2.40, 2.28, 2.15, 2.02, 1.89, 1.77, 1.64, 1.51, 1.38, 1.25, 1.12, 0.99, 0.86, 0.73, 0.61, 0.49, 0.49, 0.41, 0.34, 0.27, 0.22, 0.15, 0.12, 0.09, 0.05, 0.02, -0.01, -0.05],
    [2.8, 2.43, 2.29, 2.17, 2.04, 1.92, 1.79, 1.66, 1.53, 1.41, 1.28, 1.15, 1.02, 0.89, 0.76, 0.63, 0.51, 0.39, 0.31, 0.24, 0.17, 0.12, 0.07, 0.03, 0.00, -0.04, -0.07, -0.11, -0.16],
    [2.8, 2.37, 2.25, 2.12, 2.00, 1.87, 1.74, 1.61, 1.48, 1.35, 1.22, 1.09, 0.96, 0.84, 0.71, 0.59, 0.53, 0.45, 0.37, 0.31, 0.24, 0.18, 0.13, 0.09, 0.06, 0.03, 0.00, -0.04, -0.07],
    [2.8, 2.41, 2.29, 2.16, 2.03, 1.91, 1.78, 1.65, 1.52, 1.40, 1.27, 1.14, 1.01, 0.88, 0.75, 0.63, 0.55, 0.50, 0.41, 0.33, 0.25, 0.18, 0.12, 0.08, 0.05, 0.03, 0.00, -0.04, -0.08],
    [2.8, 2.39, 2.26, 2.13, 2.01, 1.88, 1.75, 1.62, 1.50, 1.37, 1.24, 1.11, 0.98, 0.86, 0.73, 0.60, 0.46, 0.34, 0.25, 0.17, 0.10, 0.04, -0.01, -0.05, -0.08, -0.11, -0.13, -0.12, -0.07],
    [2.8, 2.44, 2.31, 2.18, 2.06, 1.93, 1.80, 1.67, 1.55, 1.42, 1.29, 1.16, 1.03, 0.90, 0.77, 0.65, 0.52, 0.56, 0.48, 0.39, 0.32, 0.26, 0.21, 0.17, 0.14, 0.12, 0.08, 0.03, -0.01],
    [2.8, 2.38, 2.25, 2.13, 2.00, 1.87, 1.74, 1.62, 1.49, 1.36, 1.23, 1.10, 0.97, 0.85, 0.72, 0.60, 0.47, 0.43, 0.34, 0.26, 0.19, 0.13, 0.07, 0.03, -0.01, -0.04, -0.07, -0.10, -0.13],
    [2.8, 2.42, 2.28, 2.16, 2.03, 1.90, 1.78, 1.65, 1.52, 1.39, 1.26, 1.13, 1.00, 0.87, 0.75, 0.62, 0.49, 0.46, 0.38, 0.30, 0.23, 0.17, 0.11, 0.07, 0.04, 0.01, -0.02, -0.05, -0.11],
    [2.8, 2.40, 2.27, 2.14, 2.01, 1.89, 1.76, 1.63, 1.51, 1.38, 1.25, 1.12, 0.99, 0.86, 0.74, 0.61, 0.48, 0.41, 0.32, 0.24, 0.17, 0.11, 0.05, 0.01, -0.03, -0.06, -0.09, -0.13, -0.15],
    [2.8, 2.42, 2.29, 2.17, 2.04, 1.91, 1.78, 1.66, 1.53, 1.40, 1.27, 1.14, 1.01, 0.88, 0.76, 0.63, 0.50, 0.52, 0.45, 0.37, 0.30, 0.24, 0.19, 0.16, 0.15, 0.13, 0.08, 0.03, -0.02],
    [2.8, 2.39, 2.26, 2.14, 2.01, 1.88, 1.76, 1.63, 1.50, 1.37, 1.25, 1.12, 0.99, 0.86, 0.73, 0.60, 0.47, 0.38, 0.29, 0.21, 0.14, 0.08, 0.03, -0.01, -0.05, -0.08, -0.11, -0.14, -0.17],
]

# ---------------- figure ----------------
W, H = 614, 481
M_L, M_R, M_T, M_B = 78, 15, 20, 58

fig = go.Figure()
groups = [(stoch_x, stoch_y), (robust_x, robust_y), (dsrmpc_x, dsrmpc_y)]

n_runs = max(len(g[0]) for g in groups)
for i in range(n_runs):
    for (gx, gy), name, col in zip(groups, series_names, series_colors):
        if i < len(gx):
            n = min(len(gx[i]), len(gy[i]))
            fig.add_trace(go.Scatter(
                x=gx[i][:n], y=gy[i][:n], mode="lines", name=name,
                line=dict(color=col, width=1.5),
                showlegend=False, hoverinfo="skip"))

# constraint x1 = 2 (dashed)
fig.add_trace(go.Scatter(x=[constraint_x1, constraint_x1],
                         y=[y_tick_vals[0], y_tick_vals[-1]],
                         mode="lines", showlegend=False, hoverinfo="skip",
                         line=dict(color="black", width=1, dash="10px,5px")))

# legend (thick sample lines + labels), placed in pixel terms
pw = W - M_L - M_R
ph = H - M_T - M_B
def px_x(p):
    return (p - M_L) / pw
def px_y(p):
    return 1 - (p - M_T) / ph

legend_rows_px = [44, 65.5, 87]
shapes, annotations = [], []
for name, col, ry in zip(series_names, series_colors, legend_rows_px):
    shapes.append(dict(type="line", xref="paper", yref="paper",
                       x0=px_x(103), x1=px_x(156), y0=px_y(ry), y1=px_y(ry),
                       line=dict(color=col, width=5)))
    annotations.append(dict(text=name, xref="paper", yref="paper",
                            x=px_x(160), y=px_y(ry), xanchor="left", yanchor="middle",
                            showarrow=False,
                            font=dict(size=16.5, color="black",
                                      family="Liberation Sans, Arial, sans-serif")))

axis_col = "rgb(38,38,38)"
font_fam = "Liberation Sans, Arial, Helvetica, sans-serif"

fig.update_layout(
    width=W, height=H,
    margin=dict(l=M_L, r=M_R, t=M_T, b=M_B, autoexpand=False),
    paper_bgcolor="white", plot_bgcolor="white",
    font=dict(family=font_fam, size=19, color=axis_col),
    showlegend=False,
    shapes=shapes, annotations=annotations,
)
fig.update_xaxes(
    range=[0, 2.5], tickvals=x_tick_vals, ticktext=x_tick_text,
    showgrid=False, zeroline=False, showline=True, linecolor=axis_col,
    linewidth=1, ticks="inside", ticklen=5, tickcolor=axis_col,
    tickfont=dict(size=19, color=axis_col), automargin=False,
    title=dict(text="x<sub>1</sub>", font=dict(size=19, color=axis_col), standoff=8),
)
fig.update_yaxes(
    range=[-0.5, 3], tickvals=y_tick_vals, ticktext=y_tick_text,
    showgrid=False, zeroline=False, showline=True, linecolor=axis_col,
    linewidth=1, ticks="inside", ticklen=5, tickcolor=axis_col,
    tickfont=dict(size=19, color=axis_col), automargin=False,
    title=dict(text="x<sub>2</sub>", font=dict(size=19, color=axis_col), standoff=14),
)

fig.write_html("out.html", config={"displayModeBar": False},
               post_script="document.body.style.margin='0';")
